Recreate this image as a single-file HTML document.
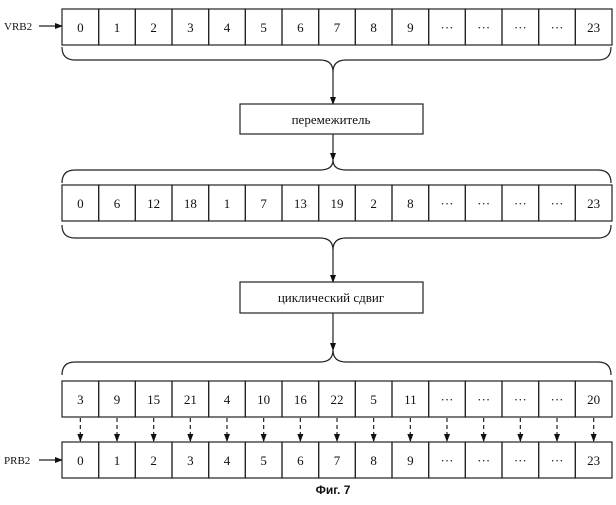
<!DOCTYPE html>
<html><head><meta charset="utf-8"><style>
html,body{margin:0;padding:0;background:#fff;}
svg text{font-family:"Liberation Serif",serif;font-size:13px;fill:#111;}
</style></head><body>
<svg width="616" height="500" viewBox="0 0 616 500" xmlns="http://www.w3.org/2000/svg">
<defs><marker id="a" markerWidth="8" markerHeight="8" refX="7" refY="4" orient="auto" markerUnits="userSpaceOnUse"><path d="M0,1 L8,4 L0,7 Z" fill="#111"/></marker></defs>
<g stroke="#222" stroke-width="1.2" fill="none">
<path d="M62,47 Q62,60 75,60 L320,60 Q333,60 333,72 Q333,60 346,60 L598,60 Q611,60 611,47"/>
<path d="M62,183 Q62,170 75,170 L320,170 Q333,170 333,160 Q333,170 346,170 L598,170 Q611,170 611,183"/>
<path d="M62,225 Q62,238 75,238 L320,238 Q333,238 333,250 Q333,238 346,238 L598,238 Q611,238 611,225"/>
<path d="M62,375 Q62,362 75,362 L320,362 Q333,362 333,350 Q333,362 346,362 L598,362 Q611,362 611,375"/>
<line x1="333" y1="72" x2="333" y2="104" marker-end="url(#a)"/>
<line x1="333" y1="134" x2="333" y2="160" marker-end="url(#a)"/>
<line x1="333" y1="250" x2="333" y2="282" marker-end="url(#a)"/>
<line x1="333" y1="313" x2="333" y2="350" marker-end="url(#a)"/>
<rect x="240" y="104" width="183" height="30"/>
<rect x="240" y="282" width="183" height="31"/>
<line x1="39" y1="26" x2="62" y2="26" marker-end="url(#a)"/>
<line x1="39" y1="460" x2="62" y2="460" marker-end="url(#a)"/>
</g>
<text x="331" y="124" text-anchor="middle">перемежитель</text>
<text x="331" y="302" text-anchor="middle">циклический сдвиг</text>
<text x="4" y="30" style="font-size:11px">VRB2</text>
<text x="4" y="464" style="font-size:11px">PRB2</text>
<text x="333" y="494" text-anchor="middle" style="font-family:'Liberation Sans',sans-serif;font-weight:bold;font-size:12px">Фиг. 7</text>
<g id="rows"></g>
</svg>
<script>
var rows=[[9,["0","1","2","3","4","5","6","7","8","9","···","···","···","···","23"]],
[185,["0","6","12","18","1","7","13","19","2","8","···","···","···","···","23"]],
[381,["3","9","15","21","4","10","16","22","5","11","···","···","···","···","20"]],
[442,["0","1","2","3","4","5","6","7","8","9","···","···","···","···","23"]]];
var g=document.getElementById('rows'),ns='http://www.w3.org/2000/svg',h=36,x0=62,w=(612-62)/15;
function el(t,a){var e=document.createElementNS(ns,t);for(var k in a)e.setAttribute(k,a[k]);g.appendChild(e);return e;}
rows.forEach(function(r){for(var i=0;i<15;i++){var x=x0+i*w;
el('rect',{x:x,y:r[0],width:w,height:h,fill:'none',stroke:'#222','stroke-width':1.2});
var t=el('text',{x:x+w/2,y:r[0]+h/2+5,'text-anchor':'middle'});t.textContent=r[1][i];}});
for(var i=0;i<15;i++){var x=x0+i*w+w/2;el('line',{x1:x,y1:418,x2:x,y2:441,stroke:'#222','stroke-width':1.2,'stroke-dasharray':'4,3','marker-end':'url(#a)'});}
</script>
</body></html>
